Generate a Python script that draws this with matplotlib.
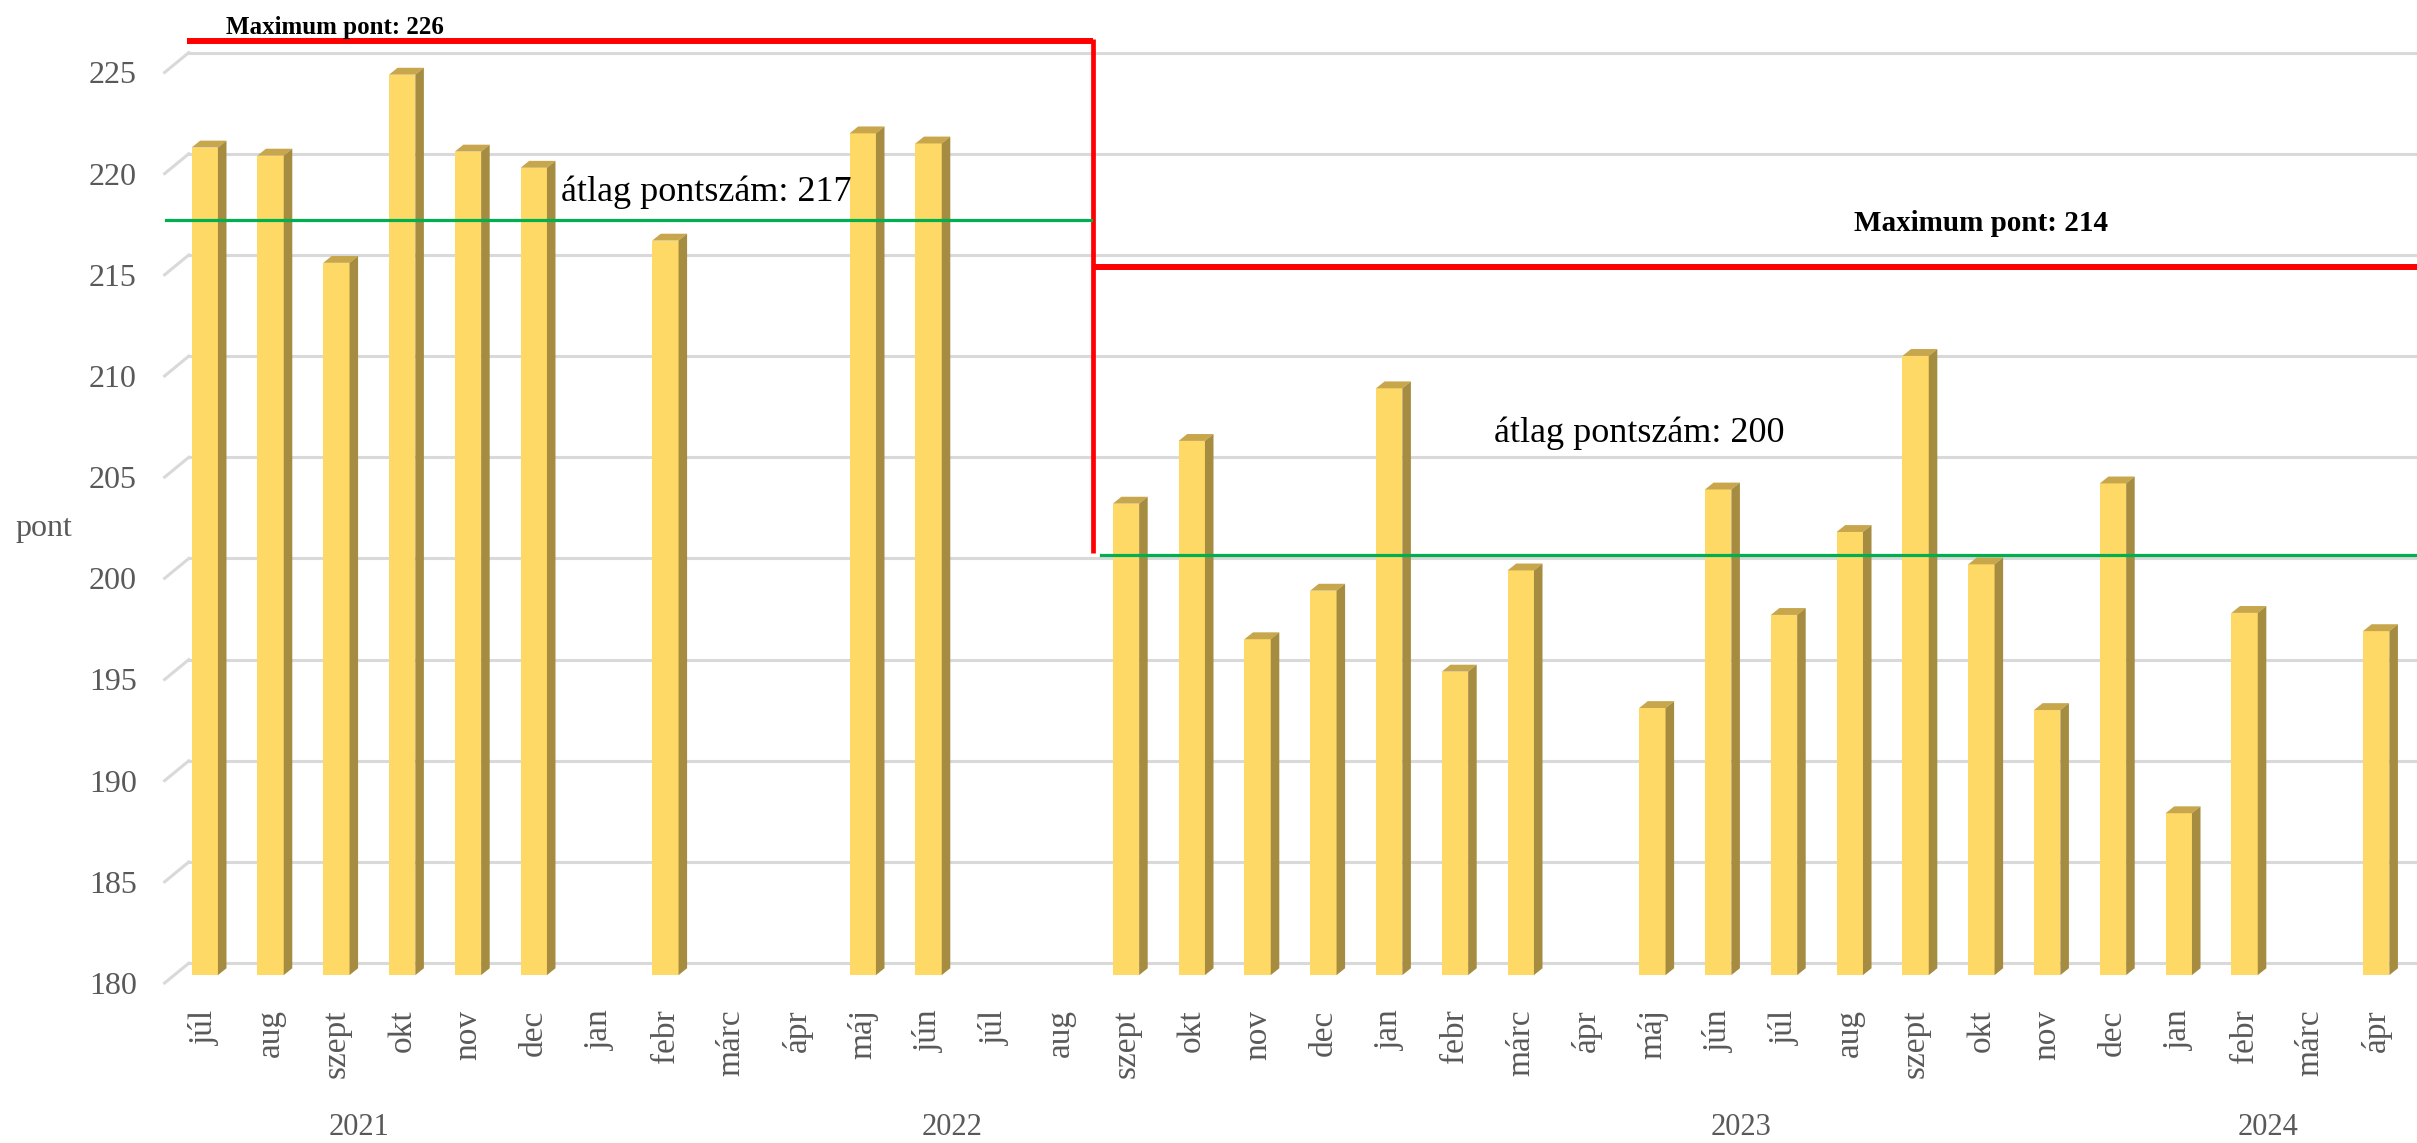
import numpy as np
import matplotlib
matplotlib.use("Agg")
import matplotlib.pyplot as plt
import matplotlib.transforms as mtransforms
from matplotlib.patches import Polygon

# monthly average points, one category per month (nan = no exam that month)
months = ["júl", "aug", "szept", "okt", "nov", "dec",
          "jan", "febr", "márc", "ápr", "máj", "jún", "júl", "aug", "szept", "okt", "nov", "dec",
          "jan", "febr", "márc", "ápr", "máj", "jún", "júl", "aug", "szept", "okt", "nov", "dec",
          "jan", "febr", "márc", "ápr"]
years = ["2021", "2022", "2023", "2024"]
months_per_year = [6, 12, 12, 4]
points = [220.9, 220.5, 215.2, 224.5, 220.7, 219.9,
          np.nan, 216.3, np.nan, np.nan, 221.6, 221.1, np.nan, np.nan, 203.3, 206.4, 196.6, 199.0,
          209.0, 195.0, 200.0, np.nan, 193.2, 204.0, 197.8, 201.9, 210.6, 200.3, 193.1, 204.3,
          188.0, 197.9, np.nan, 197.0]

# the two periods, split between aug 2022 and szept 2022
period_split = 13.5
max_labels = ["Maximum pont: 226", "Maximum pont: 214"]
max_levels = [226.15, 215.0]
avg_labels = ["átlag pontszám: 217", "átlag pontszám: 200"]
avg_levels = [217.3, 200.75]

y_ticks = list(range(180, 226, 5))

FRONT = "#FFD966"
SIDE = "#A68C40"
TOP = "#C7A64C"
GRID = "#D9D9D9"
LABEL = "#595959"
SERIF = ["Liberation Serif", "DejaVu Serif"]

plt.rcParams["font.family"] = SERIF

fig = plt.figure(figsize=(24.17, 11.43), dpi=100)
ax = fig.add_axes([162 / 2417, 160 / 1143, 2255 / 2417, 983 / 1143])
x_min, x_max = -0.65, 33.62
ax.set_xlim(x_min, x_max)
ax.set_ylim(180, 228.19)
for s in ax.spines.values():
    s.set_visible(False)

# fake 3d depth: back wall is up/right of the bars, axis labels sit in front
bar_w, dx, dy = 0.40, 0.13, 0.34
back_dy, back_x = 0.59, -0.243
front_dy, front_x = -0.39, -0.61

for t in y_ticks:
    ax.plot([back_x, x_max], [t + back_dy] * 2, color=GRID, lw=2.2, zorder=1, clip_on=False)
    ax.plot([front_x, back_x], [t + front_dy, t + back_dy], color=GRID, lw=2.2, zorder=1,
            clip_on=False)

x = np.arange(len(months))
vals = np.array(points)
ok = ~np.isnan(vals)
ax.bar(x[ok], vals[ok] - 180, bottom=180, width=bar_w, color=FRONT, zorder=3)
for xi, v in zip(x[ok], vals[ok]):
    x0, x1 = xi - bar_w / 2, xi + bar_w / 2
    ax.add_patch(Polygon([(x0, v), (x1, v), (x1 + dx, v + dy), (x0 + dx, v + dy)],
                         closed=True, facecolor=TOP, edgecolor="none", zorder=3))
    ax.add_patch(Polygon([(x1, 180), (x1, v), (x1 + dx, v + dy), (x1 + dx, 180 + dy)],
                         closed=True, facecolor=SIDE, edgecolor="none", zorder=3))

# y axis
ax.set_yticks([t + front_dy for t in y_ticks], labels=[str(t) for t in y_ticks])
ax.tick_params(axis="y", length=0, pad=18, labelsize=23, labelcolor=LABEL)
ax.set_ylabel("pont", rotation=0, fontsize=23, color=LABEL, ha="center", va="center")
ax.yaxis.set_label_coords(-0.0523, 0.462)

# x axis: months, then years underneath
ax.set_xticks(x, labels=months, rotation=90)
ax.tick_params(axis="x", length=0, pad=19, labelsize=24, labelcolor=LABEL)
blend = mtransforms.blended_transform_factory(ax.transData, ax.transAxes)
start = 0
for yr, n in zip(years, months_per_year):
    ax.text(start + (n - 1) / 2 - 0.15, -0.1465, yr, transform=blend, ha="center",
            va="center", fontsize=22, color=LABEL)
    start += n

# max / average markers for the two periods
ax.plot([-0.27, period_split], [max_levels[0]] * 2, color="#FF0000", lw=4.3,
        solid_capstyle="butt", zorder=5)
ax.plot([period_split, period_split], [max_levels[0] + 0.12, avg_levels[1] + 0.1],
        color="#FF0000", lw=3.4, solid_capstyle="butt", zorder=5)
ax.plot([period_split, x_max], [max_levels[1]] * 2, color="#FF0000", lw=4.3,
        solid_capstyle="butt", zorder=5)
ax.plot([-0.59, period_split - 0.03], [avg_levels[0]] * 2, color="#00B050", lw=2.3, zorder=5)
ax.plot([period_split + 0.12, x_max], [avg_levels[1]] * 2, color="#00B050", lw=2.3, zorder=5)

ax.text(0.32, 226.81, max_labels[0], fontsize=18, fontweight="bold", va="center", zorder=6)
ax.text(25.06, 217.13, max_labels[1], fontsize=21, fontweight="bold", va="center", zorder=6)
ax.text(5.41, 218.7, avg_labels[0], fontsize=26, va="center", zorder=6)
ax.text(19.6, 206.79, avg_labels[1], fontsize=26, va="center", zorder=6)

fig.savefig("out.png", dpi=100)
